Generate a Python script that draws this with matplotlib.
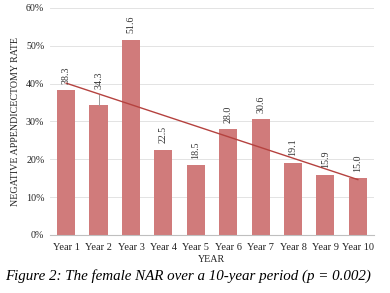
import numpy as np
import matplotlib
matplotlib.use("Agg")
import matplotlib.pyplot as plt

years = ["Year 1", "Year 2", "Year 3", "Year 4", "Year 5",
         "Year 6", "Year 7", "Year 8", "Year 9", "Year 10"]
nar = [38.3, 34.3, 51.6, 22.5, 18.5, 28.0, 30.6, 19.1, 15.9, 15.0]
yticks = [0, 10, 20, 30, 40, 50, 60]

plt.rcParams["font.family"] = ["Liberation Serif", "DejaVu Serif"]

fig = plt.figure(figsize=(3.9, 2.93), dpi=100)
ax = fig.add_axes([0.128, 0.198, 0.831, 0.775])

x = np.arange(len(years))
ax.bar(x, nar, width=0.56, color="#D07B7B", zorder=2)

# linear trendline as in the spreadsheet chart
m, b = np.polyfit(x, nar, 1)
ax.plot([x[0], x[-1]], [m * x[0] + b, m * x[-1] + b], color="#B5423F", lw=1.0, zorder=3)

for xi, v in zip(x, nar):
    off = 4.2 if xi == 1 else 1.7
    ax.text(xi, v + off, f"{v:.1f}", rotation=90, ha="center", va="bottom",
            fontsize=7.2, color="#333333", zorder=4)
# leader line for the moved Year 2 label
ax.plot([1, 1], [nar[1], nar[1] + 2.8], color="#999999", lw=0.7, zorder=3)

ax.set_xlim(-0.5, len(years) - 0.5)
ax.set_ylim(0, 60)
ax.set_yticks(yticks)
ax.set_yticklabels([f"{t}%" for t in yticks], fontsize=7.2)
ax.set_xticks(x)
ax.set_xticklabels(years, fontsize=7.5)
ax.tick_params(axis="x", length=0, pad=6, colors="#222222")
ax.tick_params(axis="y", length=0, pad=4, colors="#222222")
ax.grid(axis="y", color="#E3E3E3", lw=0.7, zorder=0)
for s in ["top", "right", "left"]:
    ax.spines[s].set_visible(False)
ax.spines["bottom"].set_color("#BFBFBF")
ax.set_xlabel("YEAR", fontsize=7.2, labelpad=2, color="#222222")
ax.set_ylabel("NEGATIVE APPENDICECTOMY RATE", fontsize=7.2, labelpad=4, color="#222222")

fig.text(0.012, 0.035, "Figure 2: The female NAR over a 10-year period (p = 0.002)",
         fontsize=10.8, style="italic", ha="left", va="bottom")

fig.savefig("out.png", dpi=100)
